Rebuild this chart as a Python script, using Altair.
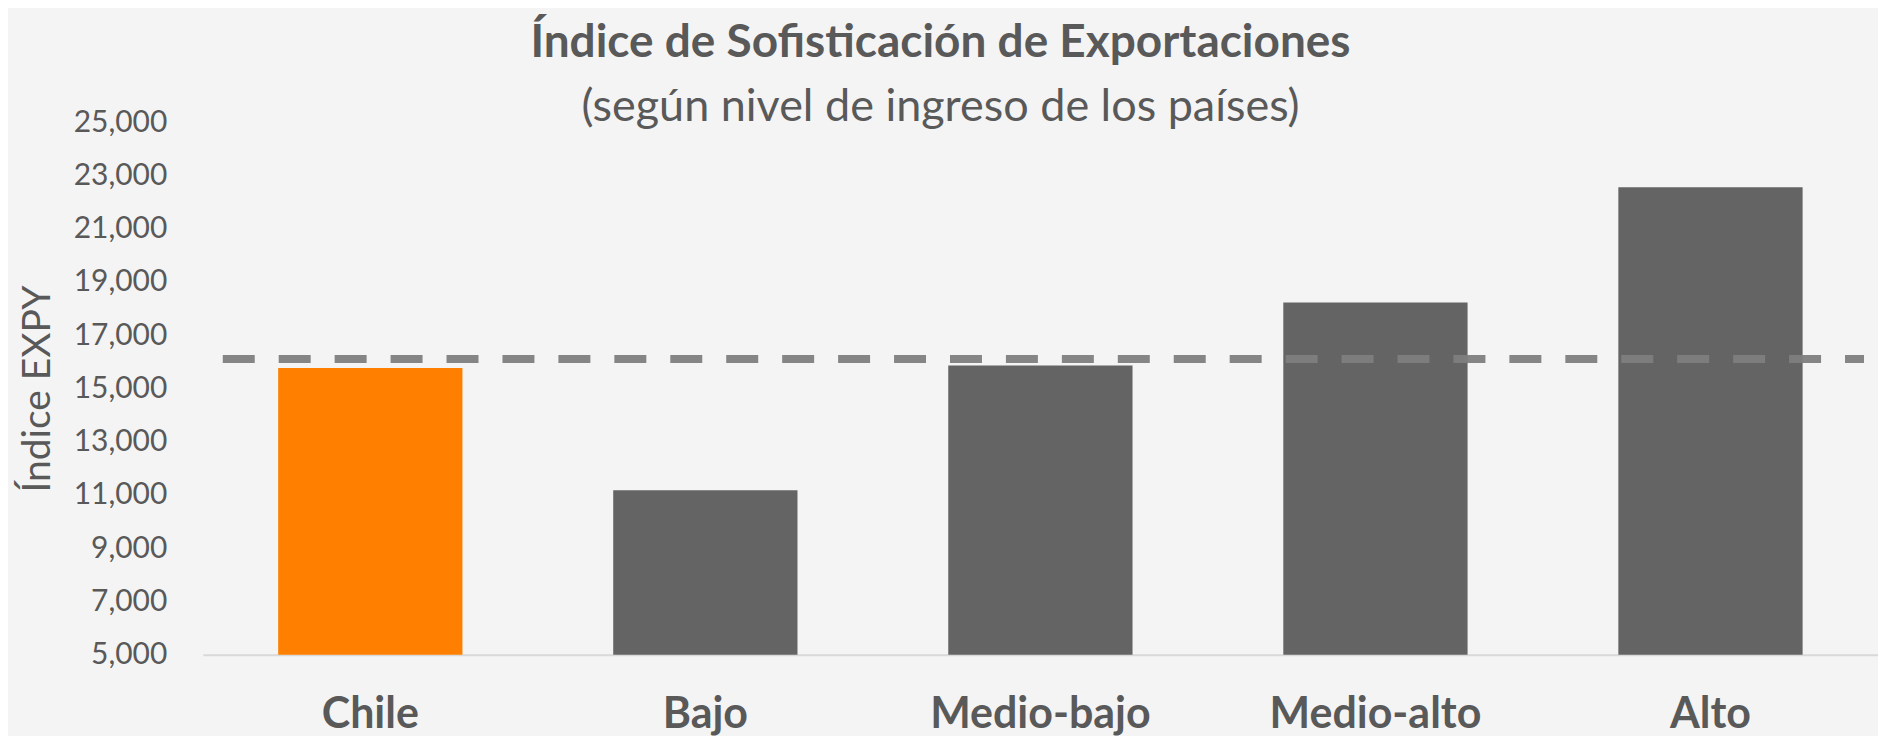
import altair as alt
import pandas as pd

categories = ["Chile", "Bajo", "Medio-bajo", "Medio-alto", "Alto"]
values = [15770, 11180, 15860, 18230, 22560]
bar_colors = ["#FF7F00", "#646464", "#646464", "#646464", "#646464"]
reference_value = [16110]
y_ticks = [5000, 7000, 9000, 11000, 13000, 15000, 17000, 19000, 21000, 23000, 25000]

df = pd.DataFrame({"cat": categories, "val": values, "color": bar_colors})
ref = pd.DataFrame({"ref": reference_value})

FONT = "Lato"
TXT = "#595959"

bars = alt.Chart(df).mark_bar().encode(
    x=alt.X("cat:N", sort=categories,
            scale=alt.Scale(paddingInner=0.45, paddingOuter=0.225),
            axis=alt.Axis(title=None, labelAngle=0, labelFont=FONT, labelFontSize=43,
                          labelFontWeight="bold", labelColor=TXT, labelPadding=39,
                          labelLimit=600, ticks=False, domainColor="#d9d9d9", domainWidth=2)),
    y=alt.Y("val:Q", scale=alt.Scale(domain=[5000, 25000], nice=False, zero=False),
            axis=alt.Axis(title="Índice EXPY", values=y_ticks, format=",.0f",
                          grid=False, domain=False, ticks=False,
                          labelFont=FONT, labelFontSize=30, labelColor=TXT, labelPadding=36,
                          titleFont=FONT, titleFontSize=39, titleFontWeight="normal",
                          titleColor=TXT, titlePadding=16)),
    y2=alt.datum(5000),
    color=alt.Color("color:N", scale=None),
)

rule = alt.Chart(ref).mark_rule(
    color="#7e7e7e", opacity=0.95, strokeWidth=8,
    strokeDash=[32, 24], strokeDashOffset=36, strokeCap="butt"
).encode(
    y="ref:Q",
    x=alt.value(0),
    x2=alt.value(1663),
)

chart = alt.layer(bars, rule).properties(
    width=1677,
    height=533,
    background="#f4f4f4",
    padding={"left": 195, "top": 114, "right": 0, "bottom": 81},
    autosize=alt.AutoSizeParams(type="none"),
    title=alt.TitleParams(
        text="Índice de Sofisticación de Exportaciones",
        subtitle="(según nivel de ingreso de los países)",
        font=FONT, fontSize=46, fontWeight="bold", color=TXT,
        subtitleFont=FONT, subtitleFontSize=45, subtitleColor=TXT,
        subtitlePadding=18, anchor="middle", dx=-100, dy=4, offset=-20,
    ),
).configure_view(stroke=None)

chart.save("out.html", embed_options={"renderer": "svg", "actions": False})
